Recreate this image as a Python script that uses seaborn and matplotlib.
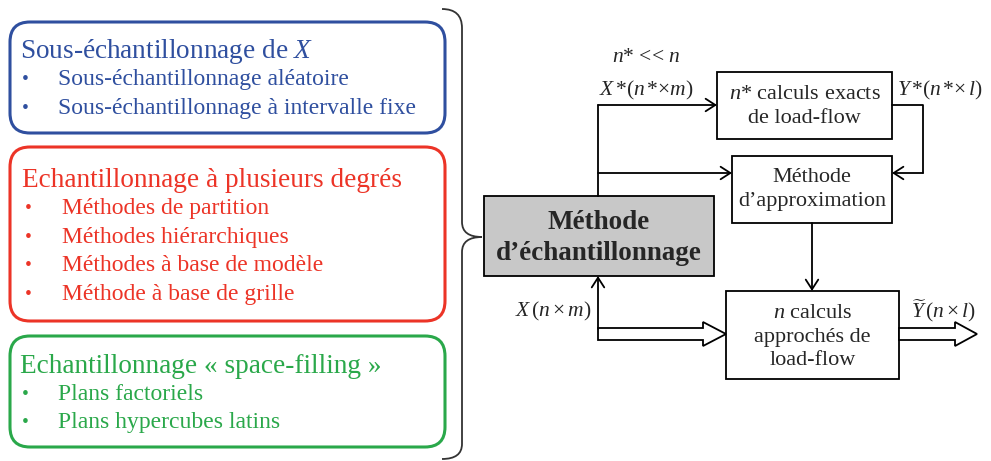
import matplotlib
matplotlib.use("Agg")
import matplotlib.pyplot as plt
import seaborn as sns
from matplotlib.patches import FancyBboxPatch, Rectangle, Polygon, PathPatch
from matplotlib.path import Path

# texts of the diagram
blue_title = "Sous-échantillonnage de $X$"
blue_items = ["Sous-échantillonnage aléatoire", "Sous-échantillonnage à intervalle fixe"]
red_title = "Echantillonnage à plusieurs degrés"
red_items = ["Méthodes de partition", "Méthodes hiérarchiques",
             "Méthodes à base de modèle", "Méthode à base de grille"]
green_title = "Echantillonnage « space-filling »"
green_items = ["Plans factoriels", "Plans hypercubes latins"]

main_label = "Méthode\nd’échantillonnage"
exact_label = "$n$* calculs exacts\nde load-flow"
approx_label = "Méthode\nd’approximation"
approche_label = "$n$ calculs\napprochés de\nload-flow"
lbl_ratio = "$n$* << $n$"
lbl_xstar = r"$X\,$*($n\,$*×$m$)"
lbl_ystar = r"$Y\,$*($n\,$*×$\,l$)"
lbl_x = r"$X\,(n\times m)$"
lbl_ytilde = r"$\widetilde{Y}\,(n\times l)$"

sns.set_style("white")
plt.rcParams['font.family'] = ['Liberation Serif', 'DejaVu Serif']
plt.rcParams['mathtext.fontset'] = 'custom'
plt.rcParams['mathtext.rm'] = 'Liberation Serif'
plt.rcParams['mathtext.it'] = 'Liberation Serif:italic'
plt.rcParams['mathtext.bf'] = 'Liberation Serif:bold'

blue = '#2f4f9f'
red = '#ec3427'
green = '#2aa84a'

fig = plt.figure(figsize=(9.91, 4.61), dpi=100)
ax = fig.add_axes([0, 0, 1, 1])
ax.set_xlim(0, 991)
ax.set_ylim(461, 0)
ax.axis('off')


def group(y0, y1, color, title, items, tx, bx, ix, y_title, step):
    box = FancyBboxPatch((10, y0), 435, y1 - y0,
                         boxstyle="round,pad=0,rounding_size=20",
                         fc='white', ec=color, lw=2.2)
    ax.add_patch(box)
    ax.text(tx, y_title, title, color=color, fontsize=19.6, va='center', ha='left')
    for k, it in enumerate(items):
        y = y_title + step * (k + 1)
        ax.text(bx, y, "•", color=color, fontsize=14, va='center', ha='center')
        ax.text(ix, y, it, color=color, fontsize=17, va='center', ha='left')


group(22, 133, blue, blue_title, blue_items, 20, 25, 58, 51, 28.5)
group(147, 321, red, red_title, red_items, 22, 28, 62, 180, 28.5)
group(336, 447, green, green_title, green_items, 20, 25, 58, 366, 28)

# brace
verts = [(442, 9), (462, 9), (462, 28), (462, 222), (462, 237), (482, 237),
         (462, 237), (462, 252), (462, 444), (462, 459), (442, 459)]
codes = [Path.MOVETO, Path.CURVE3, Path.CURVE3, Path.LINETO, Path.CURVE3, Path.CURVE3,
         Path.CURVE3, Path.CURVE3, Path.LINETO, Path.CURVE3, Path.CURVE3]
ax.add_patch(PathPatch(Path(verts, codes), fc='none', ec='#333333', lw=1.3))


def rbox(x0, y0, x1, y1, label, fc='white', dy=0, **kw):
    ax.add_patch(Rectangle((x0, y0), x1 - x0, y1 - y0, fc=fc, ec='black', lw=1.3))
    ax.text((x0 + x1) / 2, (y0 + y1) / 2 + dy, label, ha='center', va='center', **kw)


rbox(484, 196, 714, 276, main_label, fc='#c8c8c8', dy=2, fontsize=19.5, fontweight='bold',
     linespacing=1.3)
rbox(717, 72, 892, 139, exact_label, dy=1, fontsize=16, linespacing=1.4)
rbox(732, 156, 892, 223, approx_label, fontsize=16, linespacing=1.3)
rbox(726, 291, 899, 379, approche_label, dy=2, fontsize=16, linespacing=1.3)

arrow = dict(arrowstyle='->,head_length=0.7,head_width=0.45', color='black', lw=1.3,
             shrinkA=0, shrinkB=0)
ax.plot([598, 598], [196, 105], color='black', lw=1.3)
ax.annotate("", xy=(717, 105), xytext=(598, 105), arrowprops=arrow)
ax.annotate("", xy=(732, 173), xytext=(598, 173), arrowprops=arrow)
ax.plot([892, 923, 923], [105, 105, 173], color='black', lw=1.3)
ax.annotate("", xy=(892, 173), xytext=(923, 173), arrowprops=arrow)
ax.annotate("", xy=(812, 291), xytext=(812, 223), arrowprops=arrow)
ax.annotate("", xy=(598, 276), xytext=(598, 329), arrowprops=arrow)


def hollow(x0, x1, xh, yc):
    pts = [(x0, yc - 6), (xh, yc - 6), (xh, yc - 12), (x1, yc), (xh, yc + 12),
           (xh, yc + 6), (x0, yc + 6)]
    ax.add_patch(Polygon(pts, closed=True, fc='white', ec='black', lw=1.3, joinstyle='miter'))


hollow(598, 726, 703, 334)
hollow(899, 977, 955, 334)

ax.text(646, 57, lbl_ratio, fontsize=15.5, ha='center', va='center')
ax.text(646, 90, lbl_xstar, fontsize=15.5, ha='center', va='center')
ax.text(940, 90, lbl_ystar, fontsize=15.5, ha='center', va='center')
ax.text(553, 311, lbl_x, fontsize=15.5, ha='center', va='center')
ax.text(944, 311, lbl_ytilde, fontsize=15.5, ha='center', va='center')

fig.savefig("out.png", dpi=100)
